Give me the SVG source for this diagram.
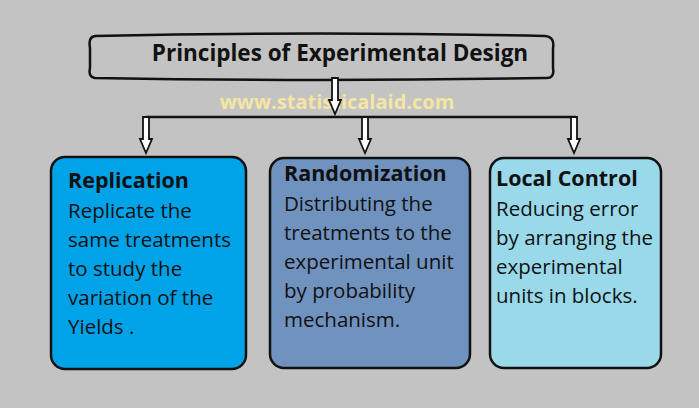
<svg xmlns="http://www.w3.org/2000/svg" width="699" height="408" viewBox="0 0 699 408">
<style>
text{font-family:"Open Sans","Noto Sans",sans-serif;fill:#111}
.h{font-weight:bold;font-size:21.5px}
.t{font-weight:bold;font-size:22.5px}
.b{font-size:20.5px}
.box{stroke:#111;stroke-width:2.5}
.c{fill:none;stroke:#111;stroke-width:2.5}
.ar{fill:#fff;stroke:#111;stroke-width:1.8}
</style>
<defs>
<g id="arr"><path class="ar" d="M-3,0 V22 H-6 L0,36 L6,22 H3 V0 Z"/></g>
</defs>
<rect width="699" height="408" fill="#c3c3c3"/>
<g id="title">
<path class="box" fill="#c3c3c3" d="M95,36 Q320,31 545,36 Q555,37 553,48 V68 Q555,79 545,78 Q320,82 95,78 Q88,77 90,68 V48 Q88,37 95,36 Z"/>
<text x="340" y="61" text-anchor="middle" class="t">Principles of Experimental Design</text>
</g>
<text x="337" y="109" text-anchor="middle" font-size="20" font-weight="bold" style="fill:#f5e6a3">www.statisticalaid.com</text>
<g id="connectors">
<path class="c" d="M146,117 H576"/>
<use href="#arr" x="335" y="78" transform="scale(1)"/>
<use href="#arr" x="146" y="117"/>
<use href="#arr" x="365" y="117"/>
<use href="#arr" x="574" y="117"/>
</g>
<g id="replication">
<rect class="box" x="51" y="157" width="195" height="212" rx="14" fill="#00a2e8"/>
<text x="68" y="188" class="h">Replication</text>
<text class="b" x="68"><tspan y="218">Replicate the</tspan><tspan x="68" y="247">same treatments</tspan><tspan x="68" y="276">to study the</tspan><tspan x="68" y="305">variation of the</tspan><tspan x="68" y="334">Yields .</tspan></text>
</g>
<g id="randomization">
<rect class="box" x="270" y="158" width="200" height="210" rx="14" fill="#7092be"/>
<text x="284" y="181" class="h">Randomization</text>
<text class="b" x="284"><tspan y="211">Distributing the</tspan><tspan x="284" y="240">treatments to the</tspan><tspan x="284" y="269">experimental unit</tspan><tspan x="284" y="298">by probability</tspan><tspan x="284" y="327">mechanism.</tspan></text>
</g>
<g id="localcontrol">
<rect class="box" x="490" y="158" width="171" height="210" rx="14" fill="#99d9ea"/>
<text x="496" y="186" class="h">Local Control</text>
<text class="b" x="496"><tspan y="216">Reducing error</tspan><tspan x="496" y="245">by arranging the</tspan><tspan x="496" y="274">experimental</tspan><tspan x="496" y="303">units in blocks.</tspan></text>
</g>
</svg>
